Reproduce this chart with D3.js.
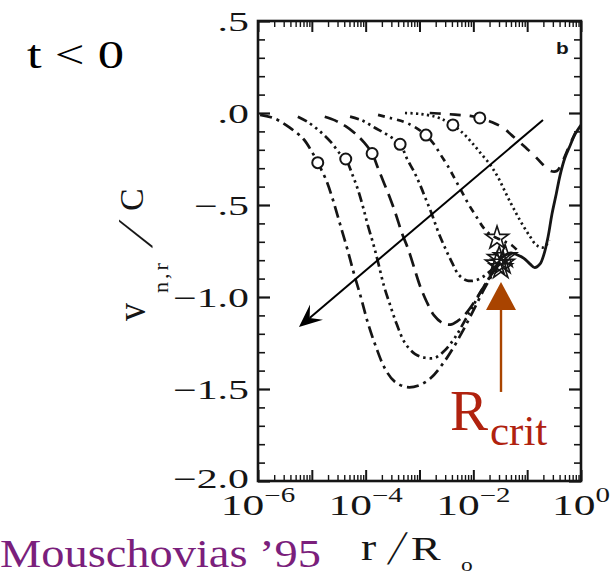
<!DOCTYPE html>
<html>
<head>
<meta charset="utf-8">
<script src="https://cdn.jsdelivr.net/npm/d3@7"></script>
<style>
  html, body { margin: 0; padding: 0; background: #fff; }
  svg { display: block; }
</style>
</head>
<body>
<script>
// Neutral radial infall velocity v_n,r / C versus log10(r / R0), successive times before t = 0.
// Each curve: pairs of [log10(r/R0), v/C].
const curve1 = [[-5.96,-0.01],[-5.69,-0.03],[-5.41,-0.08],[-5.16,-0.14],[-5.00,-0.21],[-4.89,-0.27],[-4.74,-0.36],[-4.61,-0.47],[-4.48,-0.60],[-4.35,-0.73],[-4.22,-0.87],[-4.09,-1.00],[-3.96,-1.14],[-3.81,-1.27],[-3.64,-1.39],[-3.46,-1.46],[-3.23,-1.49],[-3.01,-1.48],[-2.79,-1.44],[-2.56,-1.36],[-2.36,-1.27],[-2.17,-1.17],[-2.01,-1.08],[-1.84,-0.98],[-1.69,-0.90],[-1.56,-0.83],[-1.49,-0.80]];
const curve2 = [[-5.26,-0.02],[-5.07,-0.05],[-4.85,-0.10],[-4.64,-0.16],[-4.48,-0.22],[-4.37,-0.25],[-4.24,-0.34],[-4.14,-0.42],[-4.05,-0.51],[-3.96,-0.61],[-3.86,-0.71],[-3.77,-0.81],[-3.66,-0.94],[-3.55,-1.04],[-3.42,-1.15],[-3.27,-1.25],[-3.08,-1.31],[-2.90,-1.33],[-2.71,-1.33],[-2.53,-1.29],[-2.34,-1.22],[-2.16,-1.13],[-1.99,-1.04],[-1.84,-0.96],[-1.69,-0.89],[-1.58,-0.84],[-1.52,-0.81]];
const curve3 = [[-4.76,-0.02],[-4.57,-0.04],[-4.38,-0.07],[-4.20,-0.11],[-4.03,-0.16],[-3.88,-0.22],[-3.77,-0.30],[-3.66,-0.38],[-3.55,-0.46],[-3.44,-0.55],[-3.33,-0.65],[-3.21,-0.74],[-3.10,-0.84],[-2.99,-0.94],[-2.86,-1.03],[-2.73,-1.10],[-2.58,-1.14],[-2.43,-1.15],[-2.29,-1.13],[-2.14,-1.09],[-1.99,-1.03],[-1.84,-0.96],[-1.69,-0.89],[-1.54,-0.82]];
const curve4 = [[-4.29,-0.02],[-4.07,-0.04],[-3.83,-0.08],[-3.59,-0.12],[-3.36,-0.17],[-3.23,-0.25],[-3.10,-0.32],[-2.99,-0.39],[-2.88,-0.47],[-2.77,-0.55],[-2.66,-0.64],[-2.53,-0.73],[-2.40,-0.81],[-2.27,-0.88],[-2.12,-0.91],[-1.97,-0.91],[-1.82,-0.89],[-1.69,-0.86],[-1.58,-0.83],[-1.51,-0.80]];
const curve5 = [[-3.77,-0.01],[-3.51,-0.03],[-3.27,-0.05],[-3.07,-0.08],[-2.88,-0.12],[-2.73,-0.17],[-2.60,-0.23],[-2.47,-0.29],[-2.34,-0.36],[-2.21,-0.43],[-2.08,-0.50],[-1.95,-0.56],[-1.82,-0.62],[-1.69,-0.66],[-1.56,-0.68],[-1.41,-0.70],[-1.28,-0.72],[-1.17,-0.75]];
const curve6 = [[-3.27,0.00],[-2.99,-0.005],[-2.71,-0.02],[-2.53,-0.04],[-2.38,-0.065],[-2.19,-0.11],[-2.03,-0.16],[-1.86,-0.22],[-1.69,-0.28],[-1.54,-0.35],[-1.39,-0.44],[-1.25,-0.52],[-1.10,-0.60],[-0.95,-0.67],[-0.82,-0.72],[-0.69,-0.73],[-0.59,-0.69]];
const curve7 = [[-2.81,0.00],[-2.53,-0.005],[-2.29,-0.01],[-2.06,-0.016],[-1.88,-0.027],[-1.65,-0.05],[-1.45,-0.08],[-1.25,-0.13],[-1.06,-0.18],[-0.87,-0.23],[-0.71,-0.28],[-0.56,-0.315],[-0.45,-0.315],[-0.33,-0.255],[-0.22,-0.18],[-0.11,-0.11]];
const solidCurve = [[-1.49,-0.79],[-1.39,-0.77],[-1.30,-0.76],[-1.19,-0.77],[-1.06,-0.79],[-0.95,-0.82],[-0.86,-0.84],[-0.76,-0.82],[-0.69,-0.77],[-0.61,-0.67],[-0.54,-0.55],[-0.46,-0.44],[-0.39,-0.34],[-0.30,-0.245],[-0.20,-0.175],[-0.11,-0.115],[0,-0.065]];

// Open circles on each curve and the star markers at the critical radius
const circleMarks = [[-4.89,-0.27],[-4.37,-0.25],[-3.88,-0.22],[-3.36,-0.17],[-2.88,-0.12],[-2.38,-0.065],[-1.88,-0.027]];
const starMarks = [[-1.56,-0.68],[-1.52,-0.79],[-1.45,-0.815],[-1.56,-0.82],[-1.41,-0.78],[-1.49,-0.84]];

// Axis ticks and labels
const yMajorTicks = [-2, -1.5, -1, -0.5, 0, 0.5];
const yTickLabels = ["\u22122.0", "\u22121.5", "\u22121.0", "\u2212.5", ".0", ".5"];
const xLabelExponents = [-6, -4, -2, 0];
const xSupLabels = ["\u22126", "\u22124", "\u22122", "0"];

// Annotation arrows, [log10(r/R0), v/C]
const timeArrow = [[-0.706, -0.038], [-5.239, -1.163]];
const critArrow = [[-1.486, -1.516], [-1.486, -0.918]];

const W = 615, H = 576;
const serif = "'Liberation Serif', 'Times New Roman', serif";
const ink = "#151515";

const svg = d3.select("body").append("svg")
  .attr("width", W).attr("height", H)
  .attr("viewBox", `0 0 ${W} ${H}`);

const x = d3.scaleLog().domain([1e-6, 1]).range([258, 581]);
const y = d3.scaleLinear().domain([-2, 0.5]).range([481, 21]);
const px = d => x(Math.pow(10, d[0]));
const py = d => y(d[1]);

svg.append("defs").append("clipPath").attr("id", "plotClip")
  .append("rect")
  .attr("x", x(1e-6)).attr("y", y(0.5))
  .attr("width", x(1) - x(1e-6)).attr("height", y(-2) - y(0.5));

// Ticks, inward on all four sides
function ticks(axis, scale, values, size, width, transform) {
  const g = svg.append("g")
    .attr("transform", transform)
    .call(axis(scale).tickValues(values).tickSize(size).tickFormat(""));
  g.select(".domain").remove();
  g.selectAll("text").remove();
  g.selectAll("line").attr("stroke", ink).attr("stroke-width", width);
}
const yMinorTicks = d3.range(-20, 6).map(i => i / 10).filter(v => !yMajorTicks.includes(v));
const xMajorTicks = d3.range(-6, 1).map(e => Math.pow(10, e));
const xMinorTicks = [];
for (let e = -6; e < 0; e++) for (let m = 2; m <= 9; m++) xMinorTicks.push(m * Math.pow(10, e));

ticks(d3.axisLeft, y, yMajorTicks, -12, 2.2, `translate(${x(1e-6)},0)`);
ticks(d3.axisLeft, y, yMinorTicks, -7, 1.6, `translate(${x(1e-6)},0)`);
ticks(d3.axisRight, y, yMajorTicks, -12, 2.2, `translate(${x(1)},0)`);
ticks(d3.axisRight, y, yMinorTicks, -7, 1.6, `translate(${x(1)},0)`);
ticks(d3.axisBottom, x, xMajorTicks, -11, 2.0, `translate(0,${y(-2)})`);
ticks(d3.axisBottom, x, xMinorTicks, -6, 1.4, `translate(0,${y(-2)})`);
ticks(d3.axisTop, x, xMajorTicks, -11, 2.0, `translate(0,${y(0.5)})`);
ticks(d3.axisTop, x, xMinorTicks, -6, 1.4, `translate(0,${y(0.5)})`);

// Curves
const line = d3.line().x(px).y(py).curve(d3.curveCatmullRom.alpha(0.5));
const series = [
  { data: curve1, dash: "12,5,3,5" },
  { data: curve2, dash: "10,4,2.5,4,2.5,4,2.5,4" },
  { data: curve3, dash: "14,7" },
  { data: curve4, dash: "9,4,2.5,4,2.5,4" },
  { data: curve5, dash: "7,5,2.5,5" },
  { data: curve6, dash: "2.2,3.3" },
  { data: curve7, dash: "11,9" },
  { data: solidCurve, dash: null }
];
const curves = svg.append("g").attr("clip-path", "url(#plotClip)");
series.forEach(s => {
  curves.append("path")
    .attr("d", line(s.data))
    .attr("fill", "none")
    .attr("stroke", ink)
    .attr("stroke-width", s.dash ? 2.7 : 2.8)
    .attr("stroke-dasharray", s.dash);
});

curves.selectAll("circle.mark").data(circleMarks).join("circle")
  .attr("class", "mark")
  .attr("cx", px).attr("cy", py).attr("r", 5.5)
  .attr("fill", "#fff").attr("stroke", ink).attr("stroke-width", 2);

const star = d3.symbol().type(d3.symbolStar).size(165);
curves.selectAll("path.star").data(starMarks).join("path")
  .attr("class", "star")
  .attr("transform", d => `translate(${px(d)},${py(d)})`)
  .attr("d", star)
  .attr("fill", "none").attr("stroke", ink).attr("stroke-width", 1.6);

// Frame
svg.append("rect")
  .attr("x", x(1e-6)).attr("y", y(0.5))
  .attr("width", x(1) - x(1e-6)).attr("height", y(-2) - y(0.5))
  .attr("fill", "none").attr("stroke", ink).attr("stroke-width", 2.6);

// Panel letter
svg.append("text")
  .attr("transform", "translate(556,54) scale(1.3,1)")
  .attr("font-family", "'Liberation Sans', Arial, sans-serif")
  .attr("font-weight", "bold").attr("font-size", 16).attr("fill", ink)
  .text("b");

// Y tick labels
yMajorTicks.forEach((v, i) => {
  svg.append("text")
    .attr("transform", `translate(249,${y(v) + (v === -2 ? 7 : 10)}) scale(1.55,1)`)
    .attr("text-anchor", "end")
    .attr("font-family", serif).attr("font-size", 27).attr("fill", ink)
    .text(yTickLabels[i]);
});

// X tick labels 10^n
xLabelExponents.forEach((e, i) => {
  const t = svg.append("text")
    .attr("transform", `translate(${x(Math.pow(10, e))},515) scale(1.45,1)`)
    .attr("text-anchor", "middle")
    .attr("font-family", serif).attr("fill", ink);
  t.append("tspan").attr("font-size", 30).text("10");
  t.append("tspan").attr("font-size", 20).attr("dy", -13).text(xSupLabels[i]);
});

// X axis title r / R_o
const xTitle = svg.append("g").attr("font-family", serif).attr("fill", ink);
xTitle.append("text").attr("transform", "translate(361,560) scale(1.2,1)")
  .attr("font-size", 38).text("r");
xTitle.append("text").attr("transform", "translate(387,564) skewX(-16) scale(1,1.15)")
  .attr("font-size", 42).text("/");
xTitle.append("text").attr("transform", "translate(411,560) scale(1.35,1)")
  .attr("font-size", 33).text("R");
xTitle.append("text").attr("transform", "translate(461,571) scale(1.3,1)")
  .attr("font-size", 18).text("o");

// Y axis title v_n,r / C (rotated)
const yTitle = svg.append("g").attr("font-family", serif).attr("fill", ink);
yTitle.append("text").attr("transform", "translate(145,321) rotate(-90) scale(1,1.1)")
  .attr("font-size", 36).text("v");
yTitle.append("text").attr("transform", "translate(168,293) rotate(-90)")
  .attr("font-size", 22).attr("letter-spacing", 3).text("n,r");
yTitle.append("text").attr("transform", "translate(152,248) rotate(-90) skewX(-24)")
  .attr("font-size", 50).text("/");
yTitle.append("text").attr("transform", "translate(143,211) rotate(-90)")
  .attr("font-size", 34).text("C");

// Arrow helper: shaft end point and head outline
function arrowHead(from, to, len, half, notch) {
  const x0 = px(from), y0 = py(from), x1 = px(to), y1 = py(to);
  const L = Math.hypot(x1 - x0, y1 - y0);
  const ux = (x1 - x0) / L, uy = (y1 - y0) / L;
  const nx = -uy, ny = ux;
  const bx = x1 - ux * len, by = y1 - uy * len;
  const mx = x1 - ux * notch, my = y1 - uy * notch;
  return { x0, y0, x1, y1, mx, my,
    d: `M${x1},${y1}L${bx + nx * half},${by + ny * half}L${mx},${my}L${bx - nx * half},${by - ny * half}Z` };
}

// Time-direction arrow
const ta = arrowHead(timeArrow[0], timeArrow[1], 23, 10, 14);
svg.append("line")
  .attr("x1", ta.x0).attr("y1", ta.y0).attr("x2", ta.mx).attr("y2", ta.my)
  .attr("stroke", "#000").attr("stroke-width", 2);
svg.append("path").attr("d", ta.d).attr("fill", "#000");

// Critical-radius arrow
const critColor = "#a94400";
const ca = arrowHead(critArrow[0], critArrow[1], 28, 15, 28);
svg.append("line")
  .attr("x1", ca.x0).attr("y1", ca.y0).attr("x2", ca.mx).attr("y2", ca.my)
  .attr("stroke", critColor).attr("stroke-width", 2.4);
svg.append("path").attr("d", ca.d).attr("fill", critColor);

// R_crit label
const rc = svg.append("text").attr("font-family", serif).attr("fill", "#b0220f");
rc.append("tspan").attr("x", 450).attr("y", 430).attr("font-size", 57).text("R");
rc.append("tspan").attr("x", 490).attr("y", 445).attr("font-size", 43).text("crit");

// Time label and citation
svg.append("text")
  .attr("transform", "translate(27,68) scale(1.35,1)")
  .attr("font-family", serif).attr("font-size", 39).attr("fill", "#000")
  .text("t < 0");
svg.append("text")
  .attr("transform", "translate(0,567) scale(1.19,1)")
  .attr("font-family", serif).attr("font-size", 39).attr("fill", "#7b1f7c")
  .text("Mouschovias \u201995");
</script>
</body>
</html>
